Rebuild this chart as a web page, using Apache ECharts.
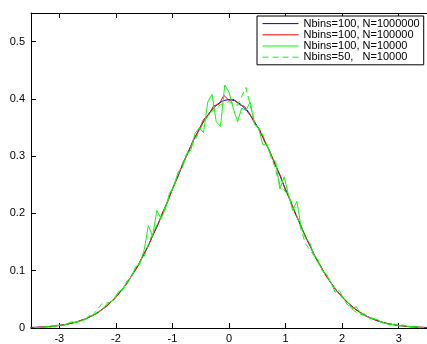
<!DOCTYPE html>
<html>
<head>
<meta charset="utf-8">
<script src="https://cdn.jsdelivr.net/npm/echarts@6/dist/echarts.min.js"></script>
<style>html,body{margin:0;padding:0;background:#fff;}#c{width:427px;height:344px;}</style>
</head>
<body>
<div id="c"></div>
<script>
// ---- data ----
const seriesNames = ['Nbins=100, N=1000000', 'Nbins=100, N=100000', 'Nbins=100, N=10000', 'Nbins=50,   N=10000'];
const xTickValues = [-3, -2, -1, 0, 1, 2, 3];
const yTickValues = [0, 0.1, 0.2, 0.3, 0.4, 0.5];

const blueX = [-3.5,-3.4,-3.3,-3.2,-3.1,-3.0,-2.9,-2.8,-2.7,-2.6,-2.5,-2.4,-2.3,-2.2,-2.1,-2.0,-1.9,-1.8,-1.7,-1.6,-1.5,-1.4,-1.3,-1.2,-1.1,-1.0,-0.9,-0.8,-0.7,-0.6,-0.5,-0.4,-0.3,-0.2,-0.1,0,0.1,0.2,0.3,0.4,0.5,0.6,0.7,0.8,0.9,1.0,1.1,1.2,1.3,1.4,1.5,1.6,1.7,1.8,1.9,2.0,2.1,2.2,2.3,2.4,2.5,2.6,2.7,2.8,2.9,3.0,3.1,3.2,3.3,3.4,3.5];
const blueY = [0.0009,0.0012,0.0017,0.0024,0.0033,0.0044,0.0060,0.0079,0.0104,0.0136,0.0175,0.0224,0.0283,0.0355,0.0440,0.0540,0.0656,0.0790,0.0940,0.1109,0.1295,0.1497,0.1714,0.1942,0.2179,0.2420,0.2661,0.2897,0.3123,0.3332,0.3521,0.3683,0.3814,0.3910,0.3970,0.3989,0.3970,0.3910,0.3814,0.3683,0.3521,0.3332,0.3123,0.2897,0.2661,0.2420,0.2179,0.1942,0.1714,0.1497,0.1295,0.1109,0.0940,0.0790,0.0656,0.0540,0.0440,0.0355,0.0283,0.0224,0.0175,0.0136,0.0104,0.0079,0.0060,0.0044,0.0033,0.0024,0.0017,0.0012,0.0009];

const redX = [-3.6,-3.51,-3.42,-3.33,-3.24,-3.15,-3.06,-2.97,-2.88,-2.79,-2.70,-2.61,-2.52,-2.43,-2.34,-2.25,-2.16,-2.07,-1.98,-1.89,-1.80,-1.71,-1.62,-1.53,-1.44,-1.35,-1.26,-1.17,-1.08,-0.99,-0.90,-0.81,-0.72,-0.63,-0.54,-0.45,-0.36,-0.27,-0.18,-0.09,0,0.09,0.18,0.27,0.36,0.45,0.54,0.63,0.72,0.81,0.90,0.99,1.08,1.17,1.26,1.35,1.44,1.53,1.62,1.71,1.80,1.89,1.98,2.07,2.16,2.25,2.34,2.43,2.52,2.61,2.70,2.79,2.88,2.97,3.06,3.15,3.24,3.33,3.42,3.51,3.60];
const redY = [0.0005,0.0009,0.0011,0.0017,0.0020,0.0030,0.0035,0.0050,0.0061,0.0085,0.0100,0.0137,0.0161,0.0214,0.0251,0.0325,0.0380,0.0475,0.0553,0.0680,0.0781,0.0936,0.1062,0.1251,0.1402,0.1622,0.1790,0.2030,0.2210,0.2460,0.2648,0.2895,0.3062,0.3290,0.3432,0.3640,0.3720,0.3880,0.3905,0.4060,0.3975,0.3990,0.3900,0.3870,0.3755,0.3580,0.3470,0.3250,0.3095,0.2860,0.2680,0.2425,0.2240,0.2000,0.1820,0.1590,0.1425,0.1225,0.1085,0.0915,0.0798,0.0660,0.0570,0.0461,0.0392,0.0312,0.0262,0.0204,0.0169,0.0129,0.0106,0.0079,0.0065,0.0046,0.0038,0.0027,0.0022,0.0015,0.0012,0.0008,0.0005];

const greenX = [-3.45,-3.375,-3.3,-3.225,-3.15,-3.075,-3.0,-2.925,-2.85,-2.775,-2.7,-2.625,-2.55,-2.475,-2.4,-2.325,-2.25,-2.175,-2.1,-2.025,-1.95,-1.875,-1.8,-1.725,-1.65,-1.575,-1.5,-1.425,-1.35,-1.275,-1.2,-1.125,-1.05,-0.975,-0.9,-0.825,-0.75,-0.675,-0.6,-0.525,-0.45,-0.375,-0.3,-0.225,-0.15,-0.075,0,0.075,0.15,0.225,0.3,0.375,0.45,0.525,0.6,0.675,0.75,0.825,0.9,0.975,1.05,1.125,1.2,1.275,1.35,1.425,1.5,1.575,1.65,1.725,1.8,1.875,1.95,2.025,2.1,2.175,2.25,2.325,2.4,2.475,2.55,2.625,2.7,2.775,2.85,2.925,3.0,3.075,3.15,3.225,3.3,3.375,3.45];
const greenY = [0.0013,0.0000,0.0013,0.0027,0.0013,0.0040,0.0053,0.0040,0.0080,0.0107,0.0093,0.0120,0.0147,0.0213,0.0213,0.0280,0.0307,0.0400,0.0453,0.0493,0.0640,0.0667,0.0827,0.0893,0.1067,0.1120,0.1360,0.1787,0.1600,0.2053,0.1907,0.2080,0.2360,0.2467,0.2720,0.2800,0.3027,0.3107,0.3400,0.3493,0.3413,0.3947,0.4080,0.3600,0.3520,0.4240,0.4120,0.3840,0.3600,0.3840,0.3800,0.3947,0.3560,0.3480,0.3200,0.3200,0.2960,0.2907,0.2427,0.2640,0.2333,0.2053,0.2213,0.1760,0.1573,0.1493,0.1280,0.1187,0.1000,0.0933,0.0800,0.0627,0.0653,0.0520,0.0453,0.0333,0.0373,0.0253,0.0240,0.0173,0.0160,0.0147,0.0093,0.0080,0.0053,0.0067,0.0040,0.0053,0.0027,0.0013,0.0027,0.0000,0.0013];

const dashX = [-3.45,-3.3,-3.15,-3.0,-2.85,-2.7,-2.55,-2.4,-2.25,-2.1,-1.95,-1.8,-1.65,-1.5,-1.35,-1.2,-1.05,-0.9,-0.75,-0.6,-0.45,-0.3,-0.15,0,0.15,0.3,0.45,0.6,0.75,0.9,1.05,1.2,1.35,1.5,1.65,1.8,1.95,2.1,2.25,2.4,2.55,2.7,2.85,3.0,3.15,3.3,3.45];
const dashY = [0.0007,0.0013,0.0020,0.0047,0.0067,0.0107,0.0147,0.0233,0.0420,0.0447,0.0620,0.0773,0.1047,0.1253,0.1653,0.1940,0.2300,0.2687,0.3040,0.3280,0.3593,0.3787,0.3900,0.3953,0.3887,0.4200,0.3587,0.3367,0.3000,0.2500,0.2320,0.1960,0.1473,0.1267,0.1007,0.0800,0.0593,0.0400,0.0273,0.0213,0.0167,0.0100,0.0067,0.0040,0.0033,0.0013,0.0007];

const colors = ['#0000ff', '#ff0000', '#00ff00', '#00ff00'];

// ---- chart ----
function pairs(xs, ys) { return xs.map((x, i) => [x, ys[i]]); }
const FONT = 'Liberation Sans, Arial, Helvetica, sans-serif';

const chart = echarts.init(document.getElementById('c'), null, {renderer: 'canvas'});
const xBase = {
  type: 'value', min: -3.5, max: 3.5,
  splitLine: {show: false},
  axisLine: {show: true, onZero: false, lineStyle: {color: '#000', width: 1}}
};
chart.setOption({
  animation: false,
  backgroundColor: '#fff',
  color: colors,
  grid: {left: 31, top: 13, width: 406, height: 317, containLabel: false},
  xAxis: [
    Object.assign({}, xBase, {
      position: 'bottom',
      axisTick: {show: true, inside: true, length: 5, customValues: xTickValues, lineStyle: {color: '#000'}},
      axisLabel: {show: true, customValues: xTickValues, color: '#000', fontSize: 11, fontFamily: FONT, margin: 5}
    }),
    Object.assign({}, xBase, {
      position: 'top',
      axisTick: {show: true, inside: true, length: 5, customValues: xTickValues, lineStyle: {color: '#000'}},
      axisLabel: {show: false}
    })
  ],
  yAxis: {
    type: 'value', min: 0, max: 0.55,
    splitLine: {show: false},
    axisLine: {show: true, onZero: false, lineStyle: {color: '#000', width: 1}},
    axisTick: {show: true, inside: true, length: 5, customValues: yTickValues, lineStyle: {color: '#000'}},
    axisLabel: {show: true, customValues: yTickValues, color: '#000', fontSize: 11, fontFamily: FONT, margin: 6,
      formatter: v => v === 0 ? '0' : v.toFixed(1)}
  },
  legend: {
    show: true, orient: 'vertical', left: 257, top: 16,
    backgroundColor: '#fff', borderColor: '#000', borderWidth: 1, borderRadius: 0,
    padding: [2, 4, 2, 5], itemWidth: 36, itemHeight: 14, itemGap: 0,
    itemStyle: {opacity: 0, color: 'transparent', borderWidth: 0},
    lineStyle: {width: 1, opacity: 1},
    textStyle: {color: '#000', fontSize: 11, fontFamily: FONT},
    data: seriesNames
  },
  series: [
    {name: seriesNames[0], type: 'line', data: pairs(blueX, blueY), showSymbol: false, symbol: 'none', lineStyle: {width: 1, color: colors[0]}, itemStyle: {color: colors[0]}},
    {name: seriesNames[1], type: 'line', data: pairs(redX, redY), showSymbol: false, symbol: 'none', lineStyle: {width: 1, color: colors[1]}, itemStyle: {color: colors[1]}},
    {name: seriesNames[2], type: 'line', data: pairs(greenX, greenY), showSymbol: false, symbol: 'none', lineStyle: {width: 1, color: colors[2]}, itemStyle: {color: colors[2]}},
    {name: seriesNames[3], type: 'line', data: pairs(dashX, dashY), showSymbol: false, symbol: 'none', lineStyle: {width: 1, color: colors[3], type: [6, 4]}, itemStyle: {color: colors[3]}}
  ]
});
</script>
</body>
</html>
